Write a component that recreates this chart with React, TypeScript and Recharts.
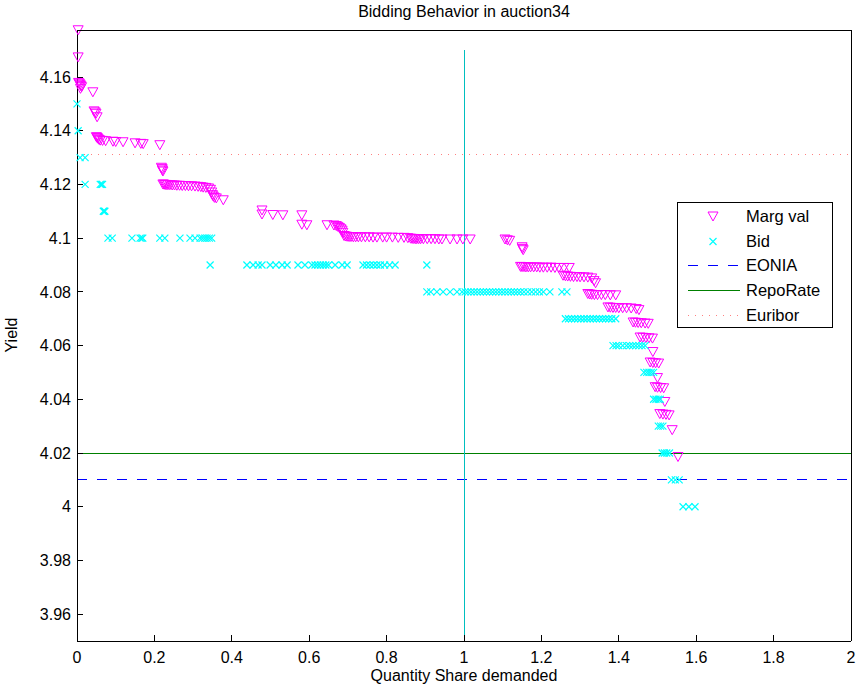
import React from 'react';
import { ScatterChart, Scatter, XAxis, YAxis, ReferenceLine, Legend } from 'recharts';

// axis ticks
const shareTicks = [0, 0.2, 0.4, 0.6, 0.8, 1, 1.2, 1.4, 1.6, 1.8, 2];
const yieldTicks = [3.96, 3.98, 4, 4.02, 4.04, 4.06, 4.08, 4.1, 4.12, 4.14, 4.16];

// reference rates
const eoniaRate = 4.01;
const repoRate = 4.02;
const euriborRate = 4.131;
const fullShare = 1;

// marginal valuation points: [quantity share, yield]
const margVal: [number, number][] = [
  [0.003, 4.1774], [0.003, 4.1673], [0.004, 4.1578], [0.006, 4.1575], [0.008, 4.1571],
  [0.010, 4.1566], [0.012, 4.1562], [0.009, 4.1556], [0.041, 4.1543], [0.044, 4.1472],
  [0.047, 4.1468], [0.049, 4.1463], [0.052, 4.1450], [0.050, 4.1376], [0.052, 4.1373],
  [0.054, 4.1370], [0.057, 4.1366], [0.060, 4.1363], [0.066, 4.1362], [0.074, 4.1361],
  [0.093, 4.1359], [0.100, 4.1358], [0.119, 4.1357], [0.150, 4.1353], [0.165, 4.1351],
  [0.171, 4.1350], [0.214, 4.1346],
  [0.218, 4.1262], [0.220, 4.1257], [0.221, 4.1252], [0.222, 4.1248],
  [0.222, 4.1200], [0.225, 4.1199], [0.228, 4.1198], [0.231, 4.1198], [0.235, 4.1197],
  [0.240, 4.1197], [0.246, 4.1196], [0.252, 4.1196], [0.258, 4.1195], [0.265, 4.1195],
  [0.272, 4.1194], [0.280, 4.1194], [0.288, 4.1193], [0.296, 4.1193], [0.305, 4.1192],
  [0.313, 4.1191], [0.320, 4.1190], [0.326, 4.1188], [0.333, 4.1187], [0.340, 4.1185],
  [0.345, 4.1180], [0.348, 4.1170], [0.350, 4.1160], [0.352, 4.1155], [0.355, 4.1150],
  [0.360, 4.1148], [0.378, 4.1141],
  [0.478, 4.1103], [0.478, 4.1088], [0.506, 4.1086], [0.532, 4.1085],
  [0.581, 4.1085], [0.581, 4.1050], [0.594, 4.1048],
  [0.646, 4.1048], [0.664, 4.1047], [0.670, 4.1045], [0.674, 4.1042], [0.678, 4.1038],
  [0.682, 4.1033], [0.685, 4.1028], [0.687, 4.1020],
  [0.690, 4.1008], [0.694, 4.1006], [0.698, 4.1005], [0.703, 4.1004], [0.708, 4.1004],
  [0.714, 4.1003], [0.720, 4.1003], [0.727, 4.1003], [0.735, 4.1003], [0.745, 4.1003],
  [0.755, 4.1003], [0.765, 4.1002], [0.775, 4.1002], [0.790, 4.1002], [0.800, 4.1002],
  [0.815, 4.1002], [0.830, 4.1001], [0.845, 4.1001], [0.855, 4.1000],
  [0.862, 4.0998], [0.866, 4.0997], [0.870, 4.0997], [0.874, 4.0996], [0.878, 4.0996],
  [0.883, 4.0996], [0.888, 4.0996], [0.895, 4.0996], [0.905, 4.0996], [0.915, 4.0996],
  [0.925, 4.0996], [0.935, 4.0995], [0.943, 4.0995], [0.964, 4.0995], [0.982, 4.0995],
  [0.997, 4.0995], [1.016, 4.0995],
  [1.106, 4.0995], [1.112, 4.0992], [1.118, 4.0990],
  [1.150, 4.0966], [1.151, 4.0960], [1.153, 4.0955],
  [1.146, 4.0893], [1.150, 4.0892], [1.155, 4.0892], [1.160, 4.0891], [1.166, 4.0891],
  [1.172, 4.0891], [1.180, 4.0891], [1.188, 4.0891], [1.196, 4.0890], [1.205, 4.0890],
  [1.215, 4.0890], [1.225, 4.0890], [1.235, 4.0889], [1.245, 4.0889], [1.258, 4.0889],
  [1.272, 4.0889],
  [1.256, 4.0860], [1.262, 4.0858], [1.268, 4.0857], [1.275, 4.0856], [1.283, 4.0855],
  [1.292, 4.0855], [1.300, 4.0854], [1.310, 4.0854], [1.320, 4.0853], [1.330, 4.0850],
  [1.336, 4.0840], [1.340, 4.0832],
  [1.320, 4.0792], [1.325, 4.0790], [1.330, 4.0789], [1.337, 4.0788], [1.345, 4.0788],
  [1.355, 4.0788], [1.365, 4.0788], [1.378, 4.0787], [1.392, 4.0787],
  [1.372, 4.0742], [1.378, 4.0741], [1.385, 4.0740], [1.392, 4.0740], [1.400, 4.0739],
  [1.410, 4.0739], [1.420, 4.0739], [1.432, 4.0738], [1.445, 4.0736], [1.452, 4.0732],
  [1.437, 4.0686], [1.443, 4.0685], [1.450, 4.0684], [1.458, 4.0683], [1.468, 4.0682],
  [1.476, 4.0681],
  [1.455, 4.0630], [1.462, 4.0629], [1.470, 4.0628], [1.478, 4.0627], [1.487, 4.0626],
  [1.488, 4.0576],
  [1.481, 4.0537], [1.488, 4.0535], [1.495, 4.0534], [1.503, 4.0533],
  [1.500, 4.0479],
  [1.494, 4.0445], [1.500, 4.0443], [1.508, 4.0442], [1.516, 4.0441],
  [1.519, 4.0390],
  [1.506, 4.0345], [1.514, 4.0343], [1.522, 4.0342], [1.530, 4.0340],
  [1.538, 4.0285],
  [1.553, 4.0185],
];

// submitted bids: [quantity share, yield]
const bids: [number, number][] = [
  [0.000, 4.15], [0.003, 4.14], [0.008, 4.13], [0.021, 4.13],
  [0.021, 4.12], [0.060, 4.12], [0.063, 4.12], [0.066, 4.12],
  [0.068, 4.11], [0.070, 4.11], [0.072, 4.11],
  [0.080, 4.10], [0.091, 4.10], [0.142, 4.10], [0.163, 4.10], [0.167, 4.10], [0.170, 4.10],
  [0.214, 4.10], [0.227, 4.10], [0.266, 4.10], [0.292, 4.10], [0.305, 4.10], [0.318, 4.10],
  [0.324, 4.10], [0.330, 4.10], [0.336, 4.10], [0.342, 4.10], [0.348, 4.10],
  [0.344, 4.09], [0.439, 4.09], [0.455, 4.09], [0.468, 4.09], [0.478, 4.09],
  [0.499, 4.09], [0.514, 4.09], [0.530, 4.09], [0.543, 4.09],
  [0.571, 4.09], [0.589, 4.09], [0.607, 4.09], [0.615, 4.09], [0.622, 4.09], [0.629, 4.09],
  [0.636, 4.09], [0.643, 4.09], [0.650, 4.09], [0.667, 4.09], [0.685, 4.09], [0.698, 4.09],
  [0.739, 4.09], [0.748, 4.09], [0.757, 4.09], [0.766, 4.09], [0.775, 4.09], [0.784, 4.09],
  [0.795, 4.09], [0.808, 4.09], [0.822, 4.09], [0.904, 4.09],
  [0.904, 4.08], [0.914, 4.08], [0.930, 4.08], [0.946, 4.08], [0.964, 4.08], [0.982, 4.08],
  [0.995, 4.08], [1.003, 4.08], [1.010, 4.08], [1.018, 4.08], [1.026, 4.08], [1.034, 4.08],
  [1.042, 4.08], [1.050, 4.08], [1.058, 4.08], [1.066, 4.08], [1.074, 4.08], [1.082, 4.08],
  [1.090, 4.08], [1.098, 4.08], [1.106, 4.08], [1.114, 4.08], [1.122, 4.08], [1.130, 4.08],
  [1.138, 4.08], [1.146, 4.08], [1.155, 4.08], [1.165, 4.08], [1.175, 4.08], [1.185, 4.08],
  [1.195, 4.08], [1.205, 4.08], [1.222, 4.08], [1.253, 4.08], [1.266, 4.08],
  [1.262, 4.07], [1.270, 4.07], [1.278, 4.07], [1.286, 4.07], [1.294, 4.07], [1.302, 4.07],
  [1.310, 4.07], [1.318, 4.07], [1.326, 4.07], [1.334, 4.07], [1.342, 4.07], [1.350, 4.07],
  [1.358, 4.07], [1.366, 4.07], [1.374, 4.07], [1.382, 4.07], [1.392, 4.07],
  [1.385, 4.06], [1.393, 4.06], [1.400, 4.06], [1.410, 4.06], [1.420, 4.06], [1.428, 4.06],
  [1.436, 4.06], [1.444, 4.06], [1.452, 4.06], [1.460, 4.06], [1.468, 4.06],
  [1.465, 4.05], [1.472, 4.05], [1.478, 4.05], [1.484, 4.05], [1.490, 4.05],
  [1.490, 4.04], [1.496, 4.04], [1.502, 4.04], [1.507, 4.04],
  [1.502, 4.03], [1.508, 4.03], [1.514, 4.03],
  [1.512, 4.02], [1.518, 4.02], [1.524, 4.02], [1.531, 4.02],
  [1.536, 4.01], [1.546, 4.01], [1.556, 4.01],
  [1.566, 4.00], [1.581, 4.00], [1.597, 4.00],
];

const legendNames = ['Marg val', 'Bid', 'EONIA', 'RepoRate', 'Euribor'];

const font = '"Liberation Sans", Arial, Helvetica, sans-serif';
const magenta = '#ff00ff';
const cyan = '#00ffff';
const yDomain: [number, number] = [3.95, 4.1775];

const margValData = margVal.map(([share, yld]) => ({ share, yld }));
const bidData = bids.map(([share, yld]) => ({ share, yld }));

const TriangleDown = (props: any) => {
  const { cx, cy } = props;
  return (
    <path
      d={`M${cx - 5},${cy - 4.5}L${cx + 5},${cy - 4.5}L${cx},${cy + 4.5}Z`}
      fill="none"
      stroke={magenta}
      strokeWidth={1}
    />
  );
};

const Cross = (props: any) => {
  const { cx, cy } = props;
  const r = 3.5;
  return (
    <path
      d={`M${cx - r},${cy - r}L${cx + r},${cy + r}M${cx - r},${cy + r}L${cx + r},${cy - r}`}
      stroke={cyan}
      strokeWidth={1.2}
      fill="none"
    />
  );
};

const LegendBox = () => {
  const rowY = [14.5, 39.5, 63.5, 88.5, 113.5];
  return (
    <svg width={156} height={126} style={{ display: 'block' }}>
      <rect x={0.5} y={0.5} width={155} height={125} fill="#fff" stroke="#000" strokeWidth={1} />
      <path d={`M31,${rowY[0] - 4.5}L41,${rowY[0] - 4.5}L36,${rowY[0] + 4.5}Z`} fill="none" stroke={magenta} />
      <path
        d={`M32.5,${rowY[1] - 3.5}L39.5,${rowY[1] + 3.5}M32.5,${rowY[1] + 3.5}L39.5,${rowY[1] - 3.5}`}
        stroke={cyan}
        strokeWidth={1.2}
      />
      <line x1={11} x2={63} y1={rowY[2]} y2={rowY[2]} stroke="#0000ff" strokeDasharray="10 10" />
      <line x1={11} x2={63} y1={rowY[3]} y2={rowY[3]} stroke="#008000" />
      <line x1={11} x2={63} y1={rowY[4]} y2={rowY[4]} stroke="#ff8080" strokeDasharray="1 6" />
      {legendNames.map((name, i) => (
        <text key={name} x={69} y={rowY[i]} dy="0.36em" fontSize={16.5} fontFamily={font} fill="#000">
          {name}
        </text>
      ))}
    </svg>
  );
};

const tickStyle = { fill: '#000', fontSize: 16, fontFamily: font };
const frameLine = { stroke: '#000', shapeRendering: 'crispEdges' };

export default function App() {
  return (
    <div style={{ position: 'absolute', left: 0, top: 0, width: 859, height: 689, background: '#fff', fontFamily: font }}>
      <ScatterChart width={859} height={689} margin={{ top: 0, right: 0, bottom: 0, left: 0 }}>
        <XAxis
          dataKey="share"
          type="number"
          domain={[0, 2]}
          ticks={shareTicks}
          interval={0}
          height={48}
          tickSize={-6}
          tickMargin={17}
          tick={tickStyle}
          axisLine={frameLine}
          tickLine={frameLine}
        />
        <XAxis
          xAxisId="top"
          dataKey="share"
          orientation="top"
          type="number"
          domain={[0, 2]}
          ticks={shareTicks}
          interval={0}
          height={30}
          tickSize={-6}
          tick={false}
          axisLine={frameLine}
          tickLine={frameLine}
        />
        <YAxis
          dataKey="yld"
          type="number"
          domain={yDomain}
          ticks={yieldTicks}
          interval={0}
          width={77}
          tickSize={-6}
          tickMargin={12}
          tick={tickStyle}
          axisLine={frameLine}
          tickLine={frameLine}
        />
        <YAxis
          yAxisId="right"
          dataKey="yld"
          orientation="right"
          type="number"
          domain={yDomain}
          ticks={yieldTicks}
          interval={0}
          width={8}
          tickSize={-6}
          tick={false}
          axisLine={frameLine}
          tickLine={frameLine}
        />
        <ReferenceLine y={euriborRate} stroke="#ff8080" strokeDasharray="1 6" shapeRendering="crispEdges" />
        <ReferenceLine y={repoRate} stroke="#008000" shapeRendering="crispEdges" />
        <ReferenceLine y={eoniaRate} stroke="#0000ff" strokeDasharray="10 10" shapeRendering="crispEdges" />
        <ReferenceLine
          segment={[{ x: fullShare, y: 3.95 }, { x: fullShare, y: 4.17 }]}
          stroke="#00bfbf"
          shapeRendering="crispEdges"
        />
        <Scatter
          name="Marg val"
          data={margValData}
          xAxisId="top"
          yAxisId="right"
          shape={TriangleDown}
          isAnimationActive={false}
        />
        <Scatter name="Bid" data={bidData} shape={Cross} isAnimationActive={false} />
        <Legend
          layout="horizontal"
          align="center"
          verticalAlign="middle"
          content={LegendBox}
          wrapperStyle={{ left: 677, top: 202, width: 156, height: 126 }}
        />
      </ScatterChart>
      {/* top frame edge of the axes box */}
      <div style={{ position: 'absolute', left: 77, top: 30, width: 775, height: 1, background: '#000' }} />
      <div style={{ position: 'absolute', left: 77, width: 774, top: 3, textAlign: 'center', fontSize: 16, lineHeight: '18px', color: '#000' }}>
        Bidding Behavior in auction34
      </div>
      <div style={{ position: 'absolute', left: 77, width: 774, top: 667, textAlign: 'center', fontSize: 16, lineHeight: '18px', color: '#000' }}>
        Quantity Share demanded
      </div>
      <div
        style={{
          position: 'absolute', left: -18, top: 326, width: 60, height: 18, textAlign: 'center',
          fontSize: 16, lineHeight: '18px', color: '#000', transform: 'rotate(-90deg)',
        }}
      >
        Yield
      </div>
    </div>
  );
}
